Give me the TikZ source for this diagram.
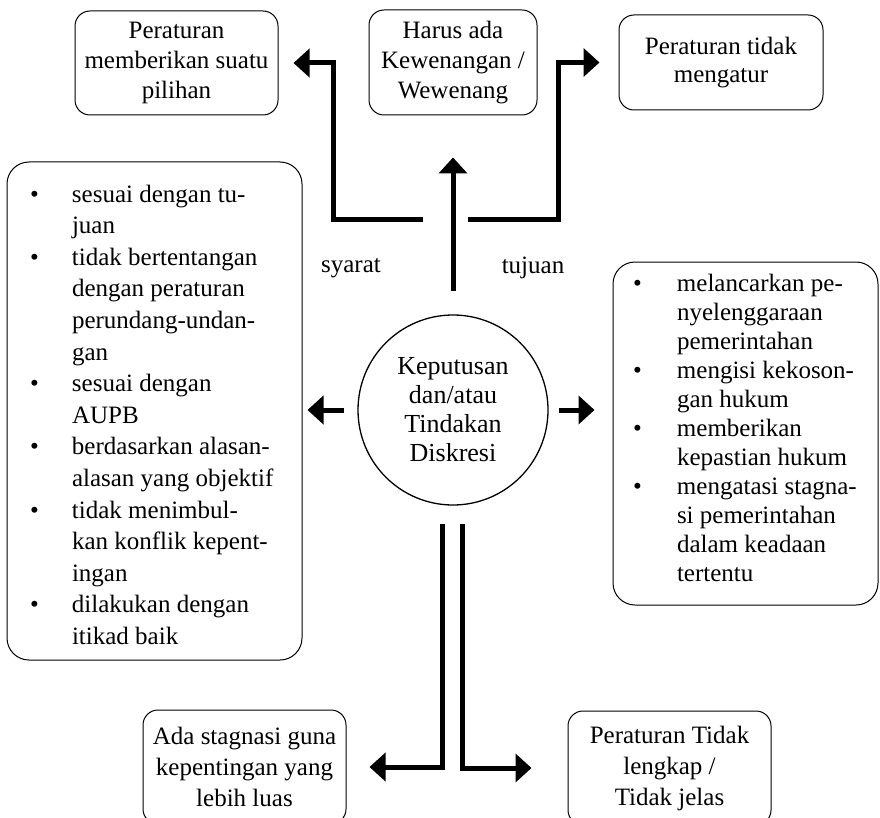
\documentclass[tikz,border=0pt]{standalone}
\usepackage{fontspec}
\setmainfont{Liberation Serif}
\usetikzlibrary{arrows.meta}
\newcommand{\itembul}[1][42pt]{\makebox[#1][l]{\textbullet}}
\newcommand{\listblock}[3]{\raisebox{#2}[\height][\depth]{\makebox[#1][l]{\begin{tabular}{@{}l@{}l@{}}#3\end{tabular}}}}

\begin{document}
\begin{tikzpicture}[x=1pt,y=-1pt,
        font=\fontsize{25}{30}\selectfont,
        box/.style={draw,rounded corners=15pt,line width=1pt,align=center,inner sep=3pt},
        listbox/.style={draw,rounded corners=22pt,line width=1pt,inner ysep=0pt},
        flow/.style={line width=5pt,-{Triangle[length=16pt,width=28pt]}}]
    \useasboundingbox (0,0) rectangle (880,818);
    % centre
    \node[draw,circle,line width=1.3pt,minimum size=190pt,inner sep=0pt,align=center,
          font=\fontsize{26}{29}\selectfont] (kep) at (453,410) {Keputusan\\dan/atau\\Tindakan\\Diskresi};
    % top row
    \node[box,minimum width=203pt,minimum height=104pt] (pilih) at (176.5,63) {Peraturan\\memberikan suatu\\pilihan};
    \node[box,minimum width=168pt,minimum height=105pt] (harus) at (453,62.5) {Harus ada\\Kewenangan /\\Wewenang};
    \node[box,minimum width=204pt,minimum height=95pt,font=\fontsize{25}{28}\selectfont] (tdkatur) at (721,62.5) {Peraturan tidak\\mengatur};
    % side lists
    \node[listbox,inner xsep=23pt,minimum height=498pt,
          font=\fontsize{25}{31.6}\selectfont] (syaratbox) at (154.5,411) {\listblock{249pt}{-6pt}{%
        \itembul & sesuai dengan tu-\\ & juan\\
        \itembul & tidak bertentangan\\ & dengan peraturan\\ & perundang-undan-\\ & gan\\
        \itembul & sesuai dengan\\ & AUPB\\
        \itembul & berdasarkan alasan-\\ & alasan yang objektif\\
        \itembul & tidak menimbul-\\ & kan konflik kepent-\\ & ingan\\
        \itembul & dilakukan dengan\\ & itikad baik}};
    \node[listbox,inner xsep=20pt,minimum height=343pt,
          font=\fontsize{25}{29}\selectfont] (tujuanbox) at (745.5,433.5) {\listblock{225pt}{3pt}{%
        \itembul[44pt] & melancarkan pe-\\ & nyelenggaraan\\ & pemerintahan\\
        \itembul[44pt] & mengisi kekoson-\\ & gan hukum\\
        \itembul[44pt] & memberikan\\ & kepastian hukum\\
        \itembul[44pt] & mengatasi stagna-\\ & si pemerintahan\\ & dalam keadaan\\ & tertentu}};
    % bottom row
    \node[box,minimum width=203pt,minimum height=114pt,font=\fontsize{25}{31}\selectfont] (stag) at (244.5,767) {Ada stagnasi guna\\kepentingan yang\\lebih luas};
    \node[box,minimum width=203pt,minimum height=114pt,font=\fontsize{25}{31}\selectfont] (lengkap) at (669.5,768) {Peraturan Tidak\\lengkap /\\Tidak jelas};
    % labels
    \node (syarat) at (351,268) {syarat};
    \node (tujuan) at (533,268) {tujuan};

    \coordinate (forkL) at (423,220);
    \coordinate (forkR) at (468,220);
    \draw[flow] (forkL) -| ([xshift=55pt]pilih.east) -- ([xshift=15pt]pilih.east);
    \draw[flow] (forkR) -| ([xshift=-60pt]tdkatur.west) -- ([xshift=-19pt]tdkatur.west);
    \draw[flow] ([yshift=23pt]kep.north) -- ([yshift=-42pt]harus.south);
    \draw[flow] ([xshift=-13pt]kep.west) -- ([xshift=5pt]syaratbox.east |- kep.west);
    \draw[flow] ([xshift=10pt]kep.east) -- ([xshift=-18pt]tujuanbox.west |- kep.east);
    \draw[flow] ([xshift=-11pt,yshift=-18pt]kep.south) |- ([xshift=23pt]stag.east);
    \draw[flow] ([xshift=9pt,yshift=-18pt]kep.south) |- ([xshift=-36pt]lengkap.west);
\end{tikzpicture}
\end{document}
